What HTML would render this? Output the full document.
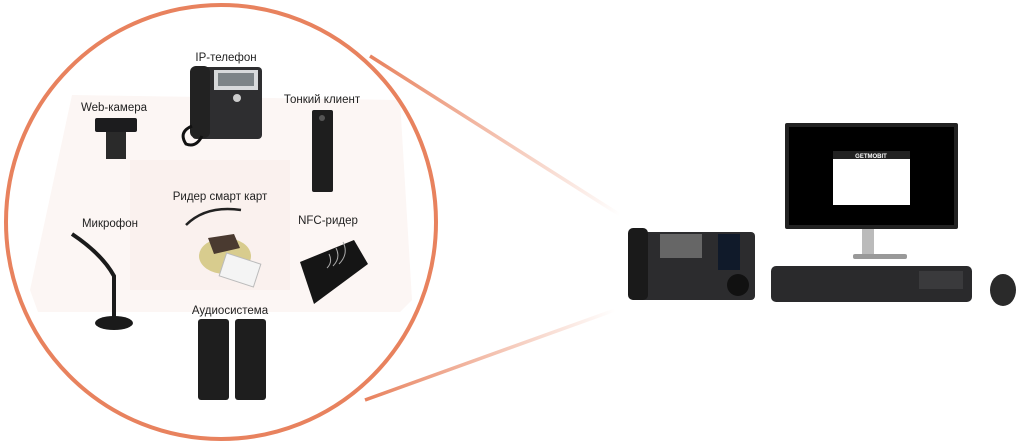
<!DOCTYPE html>
<html><head><meta charset="utf-8"><style>
html,body{margin:0;padding:0;background:#fff;width:1024px;height:444px;overflow:hidden}
svg{display:block}
text{font-family:"Liberation Sans",sans-serif;font-size:11.5px;fill:#222}
</style></head><body>
<svg width="1024" height="444" viewBox="0 0 1024 444">
<defs>
<linearGradient id="g1" x1="370" y1="56" x2="620" y2="215" gradientUnits="userSpaceOnUse">
<stop offset="0" stop-color="#e8825e"/><stop offset="1" stop-color="#e8825e" stop-opacity="0"/></linearGradient>
<linearGradient id="g2" x1="365" y1="400" x2="615" y2="310" gradientUnits="userSpaceOnUse">
<stop offset="0" stop-color="#e8825e"/><stop offset="1" stop-color="#e8825e" stop-opacity="0"/></linearGradient>
</defs>
<!-- faint background desk phone -->
<path d="M72 95 L400 100 L412 300 L400 312 L38 312 L30 290 Z" fill="#fcf6f4"/>
<rect x="130" y="160" width="160" height="130" fill="#faf1ee"/>
<!-- cone -->
<line x1="370" y1="56" x2="620" y2="215" stroke="url(#g1)" stroke-width="3.5"/>
<line x1="365" y1="400" x2="615" y2="310" stroke="url(#g2)" stroke-width="3.5"/>
<!-- circle -->
<ellipse cx="221" cy="222" rx="215" ry="217" fill="none" stroke="#e8825e" stroke-width="4"/>
<!-- labels -->
<text x="226" y="61" text-anchor="middle">IP-телефон</text>
<text x="114" y="111" text-anchor="middle">Web-камера</text>
<text x="322" y="103" text-anchor="middle">Тонкий клиент</text>
<text x="220" y="200" text-anchor="middle">Ридер смарт карт</text>
<text x="110" y="227" text-anchor="middle">Микрофон</text>
<text x="328" y="224" text-anchor="middle">NFC-ридер</text>
<text x="230" y="314" text-anchor="middle">Аудиосистема</text>
<!-- IP phone -->
<rect x="192" y="67" width="70" height="72" rx="4" fill="#2e2e30"/>
<rect x="214" y="70" width="44" height="20" fill="#d8dadc"/>
<rect x="218" y="73" width="36" height="13" fill="#7d8488"/>
<rect x="190" y="66" width="20" height="72" rx="6" fill="#222"/>
<path d="M192 126 q-14 6 -6 18 q10 4 16 -8" fill="none" stroke="#111" stroke-width="3"/>
<circle cx="237" cy="98" r="4" fill="#ccc"/>
<!-- webcam -->
<rect x="95" y="118" width="42" height="14" rx="2" fill="#1c1c1e"/>
<rect x="106" y="132" width="20" height="27" fill="#2a2a2a"/>
<!-- thin client -->
<rect x="312" y="110" width="21" height="82" rx="2" fill="#1e1e1e"/>
<circle cx="322" cy="118" r="3" fill="#555"/>
<!-- smart card reader -->
<path d="M186 225 q20 -20 55 -15" fill="none" stroke="#222" stroke-width="2.5"/>
<ellipse cx="225" cy="256" rx="26" ry="18" fill="#d8cc8e"/>
<path d="M208 238 l26 -4 l6 14 l-26 6z" fill="#4a3a30"/>
<rect x="222" y="258" width="36" height="24" transform="rotate(18 240 270)" fill="#f4f4f4" stroke="#bbb"/>
<!-- microphone -->
<path d="M72 234 q30 20 42 42 l0 48" fill="none" stroke="#1a1a1a" stroke-width="4"/>
<ellipse cx="114" cy="323" rx="19" ry="7" fill="#1a1a1a"/>
<!-- NFC -->
<path d="M300 262 l54 -22 l14 24 l-54 40z" fill="#151515"/>
<path d="M327 268 q6 -6 2 -14 M333 266 q8 -8 3 -18 M339 264 q10 -10 4 -22" fill="none" stroke="#aaa" stroke-width="1"/>
<!-- speakers -->
<rect x="198" y="319" width="31" height="81" rx="3" fill="#1e1e1e"/>
<rect x="235" y="319" width="31" height="81" rx="3" fill="#1e1e1e"/>
<!-- right desk phone -->
<rect x="630" y="232" width="125" height="68" rx="4" fill="#2c2c2e"/>
<rect x="628" y="228" width="20" height="72" rx="5" fill="#1a1a1a"/>
<rect x="660" y="234" width="42" height="24" fill="#666"/>
<rect x="718" y="234" width="22" height="36" fill="#101a2a"/>
<circle cx="738" cy="285" r="11" fill="#111"/>
<!-- monitor -->
<rect x="785" y="123" width="173" height="106" rx="2" fill="#222"/>
<rect x="789" y="127" width="165" height="98" fill="#000"/>
<rect x="833" y="151" width="77" height="8" fill="#222"/>
<text x="871" y="158" text-anchor="middle" style="font-size:6px;fill:#fff;font-weight:bold">GETMOBIT</text>
<rect x="833" y="159" width="77" height="46" fill="#fff"/>
<rect x="862" y="229" width="12" height="28" fill="#bbb"/>
<rect x="853" y="254" width="54" height="5" rx="2" fill="#999"/>
<!-- keyboard -->
<rect x="771" y="266" width="201" height="36" rx="5" fill="#2a2a2c"/>
<rect x="919" y="271" width="44" height="18" fill="#3a3a3c"/>
<!-- mouse -->
<ellipse cx="1003" cy="290" rx="13" ry="16" fill="#2a2a2a"/>
</svg>
</body></html>
